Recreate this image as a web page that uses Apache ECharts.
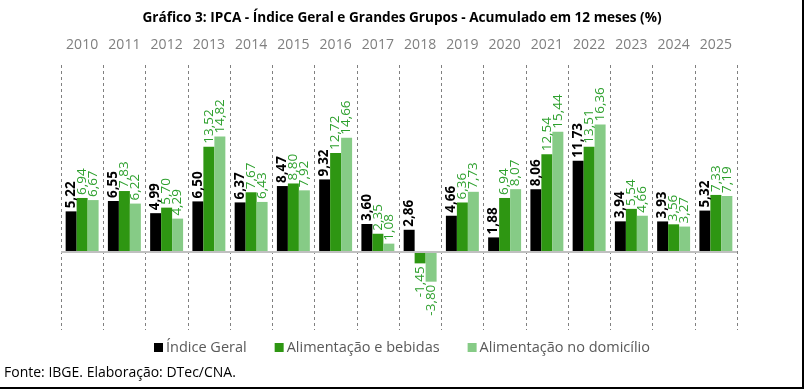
<!DOCTYPE html>
<html>
<head>
<meta charset="utf-8">
<script src="https://cdn.jsdelivr.net/npm/echarts@6/dist/echarts.min.js"></script>
<style>
html,body{margin:0;padding:0;background:#fff;}
#c{width:804px;height:389px;}
</style>
</head>
<body>
<div id="c"></div>
<script>
const categories = ['2010','2011','2012','2013','2014','2015','2016','2017','2018','2019','2020','2021','2022','2023','2024','2025'];
const indiceGeral = [5.22,6.55,4.99,6.50,6.37,8.47,9.32,3.60,2.86,4.66,1.88,8.06,11.73,3.94,3.93,5.32];
const alimentacaoBebidas = [6.94,7.83,5.70,13.52,7.67,8.80,12.72,2.35,-1.45,6.36,6.94,12.54,13.51,5.54,3.56,7.33];
const alimentacaoDomicilio = [6.67,6.22,4.29,14.82,6.43,7.92,14.66,1.08,-3.80,7.73,8.07,15.44,16.36,4.66,3.27,7.19];
const seriesNames = ['Índice Geral','Alimentação e bebidas','Alimentação no domicílio'];

const FONT = 'Open Sans';
const fmt = v => v.toFixed(2).replace('.', ',');

function mkData(arr){
  return arr.map(v => v < 0 ? {value: v, label: {position: 'bottom', align: 'right'}} : v);
}
function mkSeries(name, arr, color, labelColor, bold){
  return {
    name: name, type: 'bar', data: mkData(arr),
    barGap: '0%', barCategoryGap: '22%',
    itemStyle: {color: color},
    label: {
      show: true, position: 'top', rotate: 90, align: 'left', verticalAlign: 'middle',
      distance: 3, color: labelColor, fontFamily: FONT, fontSize: 13.5,
      fontWeight: bold ? 'bold' : 'normal',
      formatter: p => fmt(p.value)
    }
  };
}

const chart = echarts.init(document.getElementById('c'), null, {renderer: 'canvas'});
const s0 = mkSeries(seriesNames[0], indiceGeral, '#000000', '#000000', true);
s0.markLine = {silent: true, symbol: 'none', label: {show: false},
  lineStyle: {color: '#c0c0c0', type: 'solid', width: 2}, data: [{yAxis: 0}]};
chart.setOption({
  animation: false,
  backgroundColor: '#ffffff',
  title: {
    text: 'Gráfico 3: IPCA - Índice Geral e Grandes Grupos - Acumulado em 12 meses (%)',
    left: 'center', top: 6,
    textStyle: {fontFamily: FONT, fontSize: 13.6, fontWeight: 'bold', color: '#000'}
  },
  legend: {
    bottom: 29, left: 'center', itemWidth: 9, itemHeight: 9, itemGap: 28,
    icon: 'rect',
    textStyle: {fontFamily: FONT, fontSize: 14.5, color: '#595959', padding: [0,0,0,-2]},
    data: seriesNames
  },
  grid: {left: 61, right: 67, top: 65, bottom: 59},
  xAxis: {
    type: 'category', data: categories, position: 'top',
    axisLine: {show: false}, axisTick: {show: false},
    axisLabel: {interval: 0, color: '#7f7f7f', fontFamily: FONT, fontSize: 14, margin: 13},
    splitLine: {show: true, interval: 0, lineStyle: {color: '#808080', type: [3, 3], width: 1}}
  },
  yAxis: {
    type: 'value', min: -10, max: 24, show: false, splitLine: {show: false}
  },
  series: [
    s0,
    mkSeries(seriesNames[1], alimentacaoBebidas, '#2e9612', '#2ea02e', false),
    mkSeries(seriesNames[2], alimentacaoDomicilio, '#86cb86', '#2ea02e', false)
  ],
  graphic: [
    {type: 'text', left: 4, top: 366, style: {text: 'Fonte: IBGE. Elaboração: DTec/CNA.', fontFamily: FONT, fontSize: 14, fill: '#000'}},
    {type: 'rect', shape: {x: 802, y: 0, width: 2, height: 389}, style: {fill: '#000'}},
    {type: 'rect', shape: {x: 0, y: 387, width: 804, height: 2}, style: {fill: '#000'}}
  ]
});
</script>
</body>
</html>
